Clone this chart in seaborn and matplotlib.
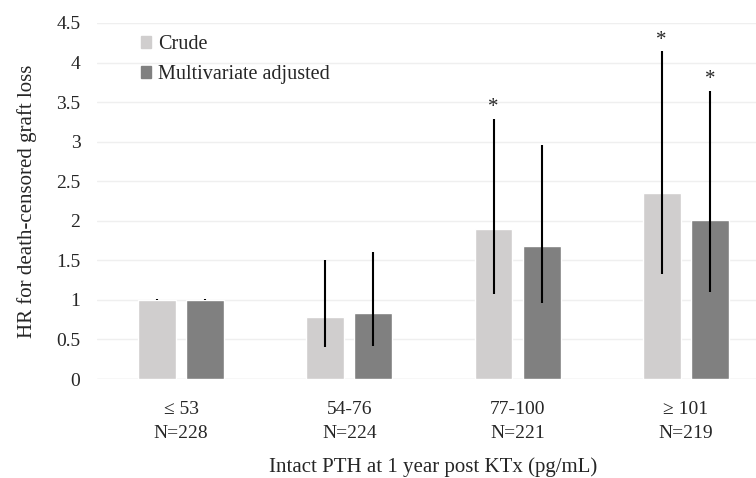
import matplotlib
matplotlib.use('Agg')
import matplotlib.pyplot as plt
import seaborn as sns
import pandas as pd
import numpy as np

# data
groups = ['\u2264 53\nN=228', '54-76\nN=224', '77-100\nN=221', '\u2265 101\nN=219']
series = ['Crude', 'Multivariate adjusted']
crude_hr = [1.0, 0.78, 1.89, 2.35]
crude_lo = [1.0, 0.40, 1.08, 1.33]
crude_hi = [1.01, 1.50, 3.29, 4.14]
crude_sig = [False, False, True, True]
adj_hr = [1.0, 0.83, 1.685, 2.01]
adj_lo = [1.0, 0.42, 0.96, 1.10]
adj_hi = [1.01, 1.60, 2.96, 3.645]
adj_sig = [False, False, False, True]
yticks = [0, 0.5, 1, 1.5, 2, 2.5, 3, 3.5, 4, 4.5]

df = pd.DataFrame({
    'group': groups * 2,
    'series': [series[0]] * 4 + [series[1]] * 4,
    'hr': crude_hr + adj_hr,
})

sns.set_style('white')
plt.rcParams['font.family'] = ['Liberation Serif', 'DejaVu Serif']

fig = plt.figure(figsize=(7.56, 4.78), dpi=100)
ax = fig.add_axes([0.1283, 0.2071, 0.890, 0.7448])

colors = ['#d0cece', '#808080']
sns.barplot(data=df, x='group', y='hr', hue='series', palette=colors,
            width=0.571, gap=0.21, errorbar=None, ax=ax, legend=False)

# confidence intervals and significance marks, positioned on the drawn bars
bars = [p for p in ax.patches]
los = crude_lo + adj_lo
his = crude_hi + adj_hi
sigs = crude_sig + adj_sig
for bar, lo, hi, sig in zip(bars, los, his, sigs):
    xc = bar.get_x() + bar.get_width() / 2
    ax.plot([xc, xc], [lo, hi], color='black', lw=1.5, solid_capstyle='butt')
    if sig:
        ax.text(xc, hi + 0.02, '*', ha='center', va='bottom', fontsize=15)

ax.set_ylim(0, 4.5)
ax.set_xlim(-0.5, 3.5)
ax.set_yticks(yticks)
ax.set_yticklabels([f'{t:g}' for t in yticks])
ax.yaxis.grid(True, color='#efefef', lw=1)
ax.set_axisbelow(True)
for s in ax.spines.values():
    s.set_visible(False)
ax.axhline(0, color='#e6e6e6', lw=1, zorder=0)
ax.tick_params(axis='both', length=0, labelsize=14)
ax.tick_params(axis='y', pad=12)
ax.tick_params(axis='x', pad=16)
for lbl in ax.get_xticklabels():
    lbl.set_linespacing(1.55)

ax.set_xlabel('Intact PTH at 1 year post KTx (pg/mL)', fontsize=15, labelpad=11)
ax.set_ylabel('HR for death-censored graft loss', fontsize=15, labelpad=14)

handles = [plt.Rectangle((0, 0), 1, 1, color=c) for c in colors]
ax.legend(handles, series, loc='upper left', bbox_to_anchor=(0.038, 1.018),
          frameon=False, fontsize=14.5, handlelength=0.5, handleheight=0.55,
          handletextpad=0.35, labelspacing=0.55)

fig.savefig('out.png', dpi=100)
plt.close(fig)
